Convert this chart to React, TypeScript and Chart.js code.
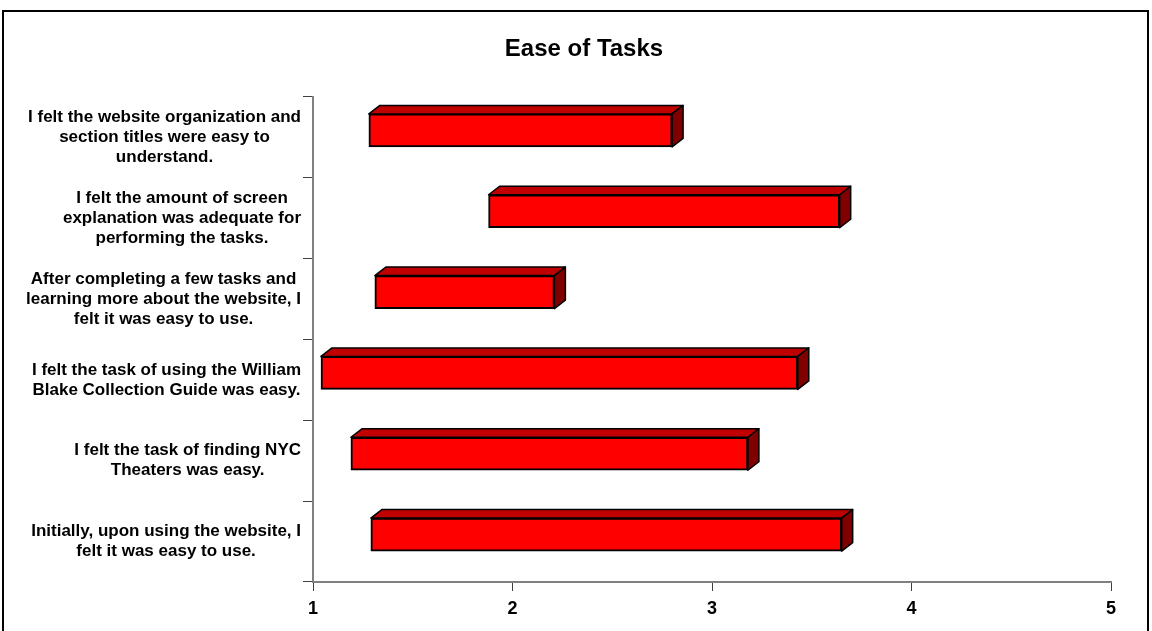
import React, { useEffect, useRef } from "react";
import { Chart, registerables } from "chart.js";

Chart.register(...registerables);

const TITLE = "Ease of Tasks";

const CATEGORIES: string[][] = [
  ["I felt the website organization and", "section titles were easy to", "understand."],
  ["I felt the amount of screen", "explanation was adequate for", "performing the tasks."],
  ["After completing a few tasks and", "learning more about the website, I", "felt it was easy to use."],
  ["I felt the task of using the William", "Blake Collection Guide was easy."],
  ["I felt the task of finding NYC", "Theaters was easy."],
  ["Initially, upon using the website, I", "felt it was easy to use."],
];

const RANGE_START = [1.28, 1.88, 1.31, 1.04, 1.19, 1.29];
const RANGE_END = [2.8, 3.64, 2.21, 3.43, 3.18, 3.65];

const X_TICKS = [1, 2, 3, 4, 5];

const FONT = "Arial, 'Liberation Sans', Helvetica, sans-serif";

const DEPTH_X = 11;
const DEPTH_Y = 8.5;
const SHIFT_Y = -7;
const Y_TICK_LEN = 10;
const Y_LABEL_GAP = 2;
const Y_LABEL_SIZE = 17;
const Y_LINE_H = 20;

const bar3d = {
  id: "bar3d",
  beforeDatasetsDraw(chart: any) {
    chart.ctx.save();
    chart.ctx.translate(0, SHIFT_Y);
  },
  afterDatasetsDraw(chart: any) {
    const ctx = chart.ctx;
    const meta = chart.getDatasetMeta(0);
    meta.data.forEach((el: any) => {
      const p = el.getProps(["x", "y", "base", "height"], true);
      const left = Math.min(p.x, p.base);
      const right = Math.max(p.x, p.base);
      const top = p.y - p.height / 2;
      const bottom = p.y + p.height / 2;
      ctx.lineWidth = 1.5;
      ctx.strokeStyle = "#000000";
      ctx.lineJoin = "round";
      ctx.beginPath();
      ctx.moveTo(left, top);
      ctx.lineTo(left + DEPTH_X, top - DEPTH_Y);
      ctx.lineTo(right + DEPTH_X, top - DEPTH_Y);
      ctx.lineTo(right, top);
      ctx.closePath();
      ctx.fillStyle = "#C00000";
      ctx.fill();
      ctx.stroke();
      ctx.beginPath();
      ctx.moveTo(right, top);
      ctx.lineTo(right + DEPTH_X, top - DEPTH_Y);
      ctx.lineTo(right + DEPTH_X, bottom - DEPTH_Y);
      ctx.lineTo(right, bottom);
      ctx.closePath();
      ctx.fillStyle = "#800000";
      ctx.fill();
      ctx.stroke();
    });
    ctx.restore();
  },
};

// category labels: lines centred with each other, block right-aligned to the axis ticks
const categoryLabels = {
  id: "categoryLabels",
  afterDraw(chart: any) {
    const ctx = chart.ctx;
    const yScale = chart.scales.y;
    const labelRight = yScale.right - Y_TICK_LEN - Y_LABEL_GAP;
    ctx.save();
    ctx.font = `bold ${Y_LABEL_SIZE}px ${FONT}`;
    ctx.fillStyle = "#000000";
    ctx.textAlign = "center";
    ctx.textBaseline = "middle";
    (chart.data.labels as string[][]).forEach((lines, i) => {
      const cy = yScale.getPixelForValue(i);
      const w = Math.max(...lines.map((l) => ctx.measureText(l).width));
      const cx = labelRight - w / 2;
      lines.forEach((l, j) => {
        ctx.fillText(l, cx, cy + (j - (lines.length - 1) / 2) * Y_LINE_H);
      });
    });
    ctx.restore();
  },
};

const frame = {
  id: "frame",
  beforeDraw(chart: any) {
    const ctx = chart.ctx;
    ctx.save();
    ctx.fillStyle = "#ffffff";
    ctx.fillRect(0, 0, chart.width, chart.height);
    ctx.restore();
  },
  afterDraw(chart: any) {
    const ctx = chart.ctx;
    ctx.save();
    ctx.strokeStyle = "#000000";
    ctx.lineWidth = 2;
    ctx.strokeRect(3, 11, 1145, 700);
    ctx.restore();
  },
};

export default function App() {
  const ref = useRef<HTMLCanvasElement>(null);

  useEffect(() => {
    document.body.style.margin = "0";
    const chart = new Chart(ref.current as HTMLCanvasElement, {
      type: "bar",
      data: {
        labels: CATEGORIES,
        datasets: [
          {
            data: RANGE_START.map((s, i) => [s, RANGE_END[i]]) as any,
            backgroundColor: "#FF0000",
            borderColor: "#000000",
            borderWidth: 2,
            borderSkipped: false,
            barThickness: 33,
          },
        ],
      },
      options: {
        indexAxis: "y",
        animation: false,
        responsive: false,
        layout: { padding: { left: 57, right: 41, top: 0, bottom: 0 } },
        plugins: {
          legend: { display: false },
          tooltip: { enabled: false },
          title: {
            display: true,
            text: TITLE,
            color: "#000000",
            font: { family: FONT, size: 24, weight: "bold", lineHeight: 1.2 },
            padding: { top: 35, bottom: 33.2 },
          },
        },
        scales: {
          x: {
            type: "linear",
            position: "bottom",
            min: X_TICKS[0],
            max: X_TICKS[X_TICKS.length - 1],
            ticks: {
              stepSize: 1,
              color: "#000000",
              padding: 7,
              font: { family: FONT, size: 18, weight: "bold" },
            },
            grid: {
              drawOnChartArea: false,
              tickLength: 9,
              tickColor: "#404040",
              tickWidth: 1,
            },
            border: { color: "#808080", width: 2 },
            afterFit: (s: any) => {
              s.height = 49;
            },
          },
          y: {
            type: "category",
            ticks: { display: false, autoSkip: false },
            grid: {
              drawOnChartArea: false,
              offset: true,
              tickLength: Y_TICK_LEN,
              tickColor: "#404040",
              tickWidth: 1,
            },
            border: { color: "#808080", width: 2 },
            afterFit: (s: any) => {
              s.width = 313 - 57;
            },
          },
        },
      } as any,
      plugins: [bar3d, categoryLabels, frame],
    });
    return () => chart.destroy();
  }, []);

  return (
    <div style={{ position: "absolute", left: 0, top: 0, width: 1152, height: 631, overflow: "hidden" }}>
      <canvas ref={ref} width={1152} height={631} style={{ display: "block" }} />
    </div>
  );
}
